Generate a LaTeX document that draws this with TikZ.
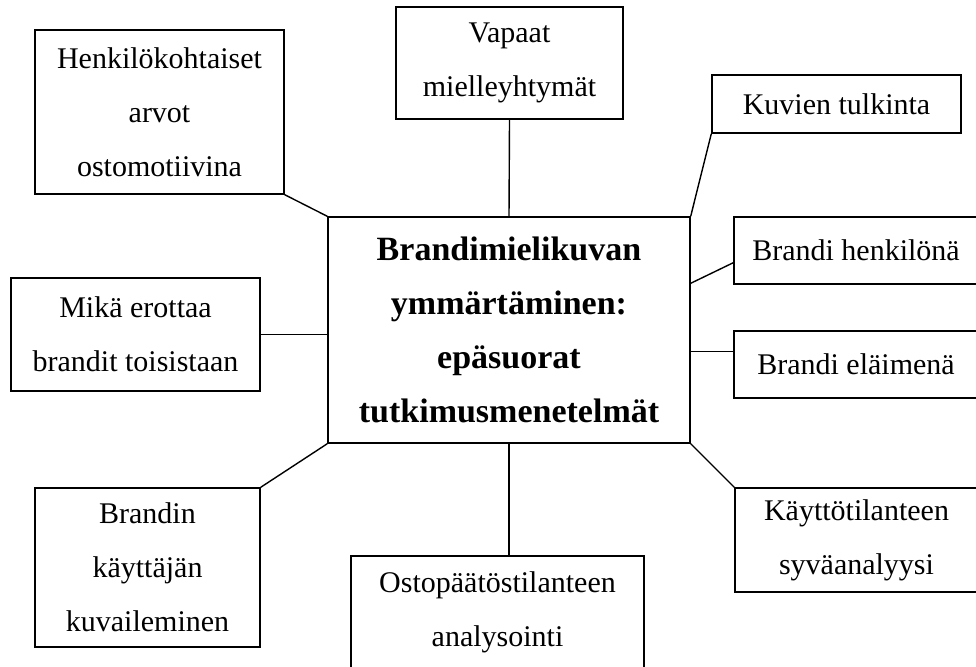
\documentclass[tikz,border=0pt]{standalone}
\usepackage{fontspec}
\setmainfont{Liberation Serif}
\begin{document}
\begin{tikzpicture}[x=1pt,y=-1pt,
  box/.style={draw, line width=1.4pt, align=center, inner sep=0pt,
    font=\fontsize{30}{54}\selectfont},
  hub/.style={box, font=\bfseries\fontsize{34}{54}\selectfont},
  link/.style={line width=1.4pt}]
\useasboundingbox (0,0) rectangle (976,666);

% central topic
\node[hub, minimum width=362pt, minimum height=226pt] (hub) at (509,330)
  {Brandimielikuvan\\ymmärtäminen:\\epäsuorat\\tutkimusmenetelmät};

% surrounding methods
\node[box, minimum width=249pt, minimum height=164pt] (henk) at (159.5,112)
  {Henkilökohtaiset\\arvot\\ostomotiivina};
\node[box, minimum width=227pt, minimum height=112pt] (vapaat) at (509.5,63)
  {Vapaat\\mielleyhtymät};
\node[box, minimum width=249pt, minimum height=58pt] (kuvat) at (836.5,104)
  {Kuvien tulkinta};
\node[box, minimum width=244pt, minimum height=67pt] (hlo) at (856,250.5)
  {Brandi henkilönä};
\node[box, minimum width=244pt, minimum height=67pt] (elain) at (856,364.5)
  {Brandi eläimenä};
\node[box, minimum width=249pt, minimum height=113pt] (mika) at (135.5,334.5)
  {Mikä erottaa\\brandit toisistaan};
\node[box, minimum width=225pt, minimum height=159pt] (kayttaja) at (147.5,567.5)
  {Brandin\\käyttäjän\\kuvaileminen};
\node[box, minimum width=293pt, minimum height=112pt] (osto) at (497.5,612)
  {Ostopäätöstilanteen\\analysointi};
\node[box, minimum width=243pt, minimum height=104pt] (kaytto) at (856.5,540)
  {Käyttötilanteen\\syväanalyysi};

% connectors
\coordinate (hloA) at ([yshift=22pt]hlo.south west);
\coordinate (hubHlo) at ([yshift=-67pt]hub.north east);
\coordinate (elainA) at ([yshift=-21pt]elain.north west);

\draw[link] (henk.south east) -- (hub.north west);
\draw[link] (vapaat.south) -- (hub.north);
\draw[link] (kuvat.south west) -- (hub.north east);
\draw[link] (hloA) -- (hubHlo);
\draw[link] (elainA) -- (hub.east |- elainA);
\draw[link] (mika.east) -- (hub.west |- mika.east);
\draw[link] (kayttaja.north east) -- (hub.south west);
\draw[link] (hub.south) -- (hub.south |- osto.north);
\draw[link] (hub.south east) -- (kaytto.north west);
\end{tikzpicture}
\end{document}
